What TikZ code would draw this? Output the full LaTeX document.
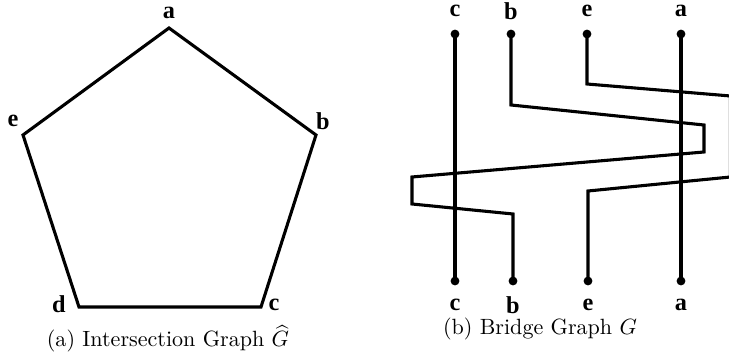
\documentclass[tikz,border=0pt]{standalone}
\usepackage{fontspec}
\newfontfamily\lblfont{Liberation Serif}
\begin{document}
\begin{tikzpicture}[x=0.453pt,y=-0.453pt,
  edge/.style={line width=1.4pt},
  lbl/.style={font=\lblfont\bfseries\fontsize{11}{12}\selectfont,inner sep=0pt},
  dot/.style={circle,fill=black,inner sep=0pt,minimum size=4pt},
  captxt/.style={inner sep=0pt,anchor=base}]
\useasboundingbox (0,0) rectangle (729,354);
% (a) pentagon
\coordinate (A) at (169,28);
\coordinate (B) at (316,135);
\coordinate (C) at (261,307);
\coordinate (D) at (79,307);
\coordinate (E) at (23,135);
\draw[edge] (A) -- (B) -- (C) -- (D) -- (E) -- cycle;
\node[lbl] (la) at (169,13) {a};
\node[lbl] (lb) at (323,121) {b};
\node[lbl] (le) at (13,121) {e};
\node[lbl] (ld) at (59,304) {d};
\node[lbl] (lc) at (274,305) {c};
\node[captxt] (capa) at (168,347) {(a) Intersection Graph $\widehat{G}$};
% (b) bridge graph
\node[dot] (ct) at (455,34) {};
\node[dot] (bt) at (511,34) {};
\node[dot] (et) at (587,34) {};
\node[dot] (at) at (681,34) {};
\node[dot] (cb) at (455,281) {};
\node[dot] (bb) at (513,281) {};
\node[dot] (eb) at (588,281) {};
\node[dot] (ab) at (681,281) {};
\node[lbl] (tc) at (455,11) {c};
\node[lbl] (tb) at (511,11) {b};
\node[lbl] (te) at (587,11) {e};
\node[lbl] (ta) at (681,11) {a};
\node[lbl] (bc) at (455,305) {c};
\node[lbl] (bbl) at (513,305) {b};
\node[lbl] (be) at (588,305) {e};
\node[lbl] (ba) at (681,305) {a};
\draw[edge] (ct.center) -- (cb.center);
\draw[edge] (at.center) -- (ab.center);
\coordinate (b1) at (511,105);
\coordinate (b2) at (704,125);
\coordinate (b3) at (704,152);
\coordinate (b4) at (412,177);
\coordinate (b5) at (412,204);
\coordinate (b6) at (513,214);
\draw[edge] (bt.center) -- (b1) -- (b2) -- (b3) -- (b4) -- (b5) -- (b6) -- (bb.center);
\coordinate (e1) at (587,84);
\coordinate (e2) at (730.5,96);
\coordinate (e3) at (730.5,177);
\coordinate (e4) at (588,191);
\draw[edge] (et.center) -- (e1) -- (e2) -- (e3) -- (e4) -- (eb.center);
\node[captxt] (capb) at (540,335) {(b) Bridge Graph $G$};
\end{tikzpicture}
\end{document}
